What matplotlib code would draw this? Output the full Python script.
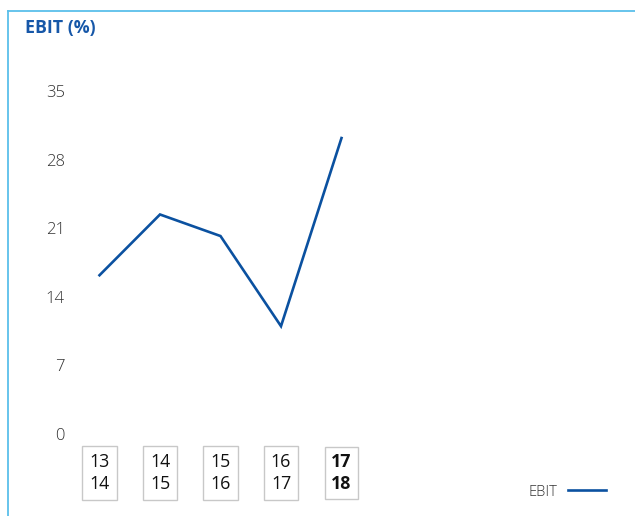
import matplotlib
matplotlib.use("Agg")
import matplotlib.pyplot as plt
from matplotlib.lines import Line2D

plt.rcParams['font.family'] = ['Open Sans', 'DejaVu Sans']

# EBIT margin by financial year
years = ["13\n14", "14\n15", "15\n16", "16\n17", "17\n18"]
ebit = [16.2, 22.4, 20.2, 11.0, 30.2]
yticks = [0, 7, 14, 21, 28, 35]

W, H = 635, 516
fig = plt.figure(figsize=(W / 100, H / 100), dpi=100)

# panel frame (top and left edges only)
frame_col = '#5bbfea'
fig.add_artist(Line2D([7.5 / W, 1], [1 - 10.5 / H, 1 - 10.5 / H], color=frame_col, lw=1.3))
fig.add_artist(Line2D([7.5 / W, 7.5 / W], [0, 1 - 10.5 / H], color=frame_col, lw=1.3))

fig.text(25 / W, 1 - 28 / H, "EBIT (%)", color='#1657a8', fontsize=12.8,
         fontweight='bold', va='center', ha='left')

ax = fig.add_axes([99.5 / W, 82 / H, 242 / W, 343 / H])
x = list(range(len(years)))
ax.plot(x, ebit, color='#0b51a0', lw=1.9, solid_joinstyle='miter', label='EBIT', clip_on=False)

ax.set_xlim(0, len(years) - 1)
ax.set_ylim(0, 35)
ax.set_yticks(yticks)
ax.tick_params(axis='y', length=0, pad=25, labelsize=12, labelcolor='#333333')
for lab in ax.get_yticklabels():
    lab.set_fontweight('light')
for s in ax.spines.values():
    s.set_visible(False)

ax.set_xticks(x)
ax.set_xticklabels(years)
ax.tick_params(axis='x', length=0, pad=13.5, labelsize=12.8, labelcolor='#111111')
for i, lab in enumerate(ax.get_xticklabels()):
    lab.set_linespacing(1.3)
    lab.set_va('top')
    bold = i == len(years) - 1
    lab.set_bbox(dict(boxstyle='square,pad=%s' % (0.34 if bold else 0.4),
                      fc='white', ec='#c8c8c8', lw=1))
    if bold:
        lab.set_fontweight('bold')

leg = fig.legend(loc='center', bbox_to_anchor=(567 / W, 1 - 492 / H), frameon=False,
                 markerfirst=False, handlelength=2.6, fontsize=10.5, handletextpad=0.7)
for t in leg.get_texts():
    t.set_color('#333333')
    t.set_fontweight('light')

fig.savefig('out.png', dpi=100)
